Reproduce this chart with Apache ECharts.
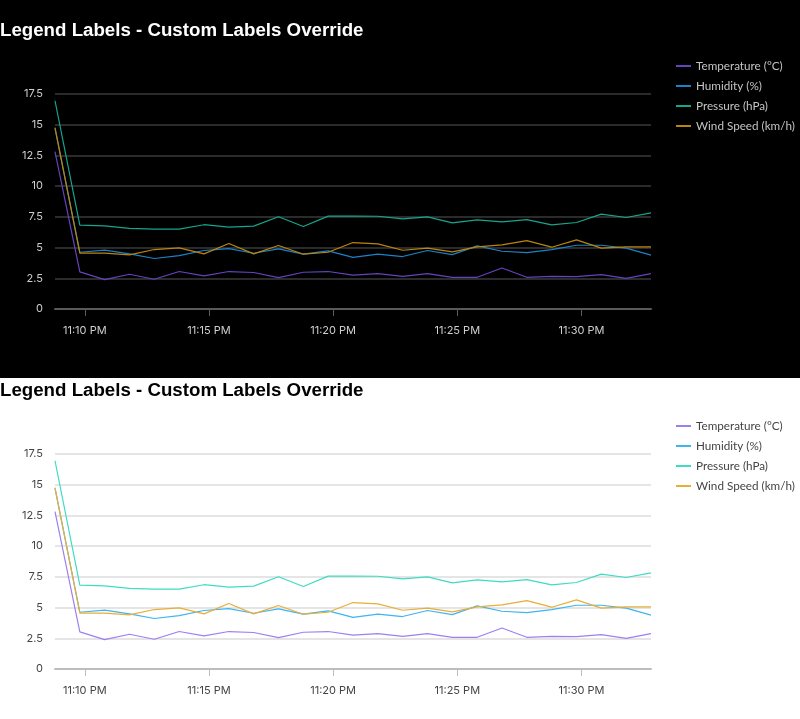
<!DOCTYPE html>
<html>
<head>
<meta charset="utf-8">
<script src="https://cdn.jsdelivr.net/npm/echarts@6/dist/echarts.min.js"></script>
<style>
  body { margin: 0; background: #fff; }
  #darkWrap { background: #000; padding-top: 18px; }
  .chart { width: 800px; height: 360px; }
</style>
</head>
<body>
<div id="darkWrap"><div id="chartDark" class="chart"></div></div>
<div id="chartLight" class="chart"></div>
<script>
// series names (custom legend labels)
var seriesNames = ['Temperature (°C)', 'Humidity (%)', 'Pressure (hPa)', 'Wind Speed (km/h)'];

// one reading per minute starting 11:08:48 PM
var startTime = new Date(2024, 0, 15, 23, 8, 48).getTime();
var stepMs = 60 * 1000;

var tempData = [12.8, 3.02, 2.39, 2.83, 2.42, 3.05, 2.69, 3.05, 2.97, 2.56, 2.99, 3.05, 2.76, 2.88, 2.66, 2.88, 2.58, 2.58, 3.34, 2.58, 2.66, 2.64, 2.80, 2.50, 2.88];
var humData = [14.7, 4.62, 4.79, 4.49, 4.11, 4.35, 4.76, 4.92, 4.54, 4.90, 4.46, 4.73, 4.20, 4.46, 4.27, 4.76, 4.43, 5.14, 4.70, 4.59, 4.84, 5.19, 5.19, 4.95, 4.38];
var presData = [16.95, 6.83, 6.77, 6.56, 6.50, 6.50, 6.86, 6.66, 6.75, 7.51, 6.72, 7.56, 7.57, 7.55, 7.34, 7.50, 7.01, 7.26, 7.09, 7.28, 6.85, 7.04, 7.72, 7.45, 7.83];
var windData = [14.77, 4.54, 4.54, 4.41, 4.84, 4.98, 4.49, 5.33, 4.49, 5.17, 4.46, 4.62, 5.41, 5.30, 4.78, 4.95, 4.65, 5.05, 5.22, 5.57, 5.03, 5.63, 4.95, 5.05, 5.05];

var themes = {
    dark: {
        bg: '#000', title: '#fff', label: '#cfcfcf', legend: '#c4c4c4',
        split: '#3a3a3a', axis: '#5a5a5a',
        colors: ['#6443bd', '#1a82c8', '#16a58d', '#bb850f']
    },
    light: {
        bg: '#fff', title: '#000', label: '#444', legend: '#444',
        split: '#dcdcdc', axis: '#bdbdbd',
        colors: ['#9d80f0', '#3db5ee', '#3edcc3', '#e7ae3a']
    }
};

var axisFont = 'Inter, Lato, sans-serif';

function pairs(values) {
    var out = [];
    for (var i = 0; i < values.length; i++) {
        out.push([startTime + i * stepMs, values[i]]);
    }
    return out;
}

function timeLabel(val) {
    var d = new Date(val);
    var h = d.getHours();
    var m = d.getMinutes();
    var ampm = h >= 12 ? 'PM' : 'AM';
    h = h % 12;
    if (h === 0) h = 12;
    return h + ':' + (m < 10 ? '0' + m : m) + ' ' + ampm;
}

function makeOption(t) {
    var allData = [tempData, humData, presData, windData];
    var series = [];
    for (var i = 0; i < seriesNames.length; i++) {
        series.push({
            name: seriesNames[i],
            type: 'line',
            symbol: 'none',
            lineStyle: { width: 1.2, color: t.colors[i] },
            itemStyle: { color: t.colors[i] },
            data: pairs(allData[i])
        });
    }
    return {
        backgroundColor: t.bg,
        animation: false,
        title: {
            text: 'Legend Labels - Custom Labels Override',
            left: 0,
            top: 3,
            padding: 0,
            textStyle: {
                color: t.title,
                fontSize: 18.7,
                fontWeight: 'bold',
                fontFamily: '"Liberation Sans", Arial, sans-serif'
            }
        },
        legend: {
            orient: 'vertical',
            left: 676,
            top: 42,
            padding: 0,
            icon: 'rect',
            itemWidth: 15,
            itemHeight: 2,
            itemGap: 8,
            textStyle: { color: t.legend, fontSize: 11.7, fontFamily: 'Lato, sans-serif' },
            data: seriesNames
        },
        grid: { left: 55, right: 149, top: 76, bottom: 69 },
        xAxis: {
            type: 'time',
            min: startTime,
            max: startTime + (tempData.length - 1) * stepMs,
            splitNumber: 4,
            axisLine: { lineStyle: { color: t.axis, width: 2 } },
            axisTick: { show: true, length: 7, lineStyle: { color: t.axis } },
            splitLine: { show: false },
            axisLabel: {
                color: t.label,
                fontSize: 11,
                fontFamily: axisFont,
                margin: 16,
                showMinLabel: false,
                showMaxLabel: false,
                formatter: timeLabel
            }
        },
        yAxis: {
            type: 'value',
            min: 0,
            max: 17.5,
            interval: 2.5,
            axisLine: { show: false },
            axisTick: { show: false },
            splitLine: { lineStyle: { color: t.split, width: 1.5 } },
            axisLabel: { color: t.label, fontSize: 11, fontFamily: axisFont, margin: 12 }
        },
        series: series
    };
}

var darkChart = echarts.init(document.getElementById('chartDark'));
darkChart.setOption(makeOption(themes.dark));
var lightChart = echarts.init(document.getElementById('chartLight'));
lightChart.setOption(makeOption(themes.light));
</script>
</body>
</html>
